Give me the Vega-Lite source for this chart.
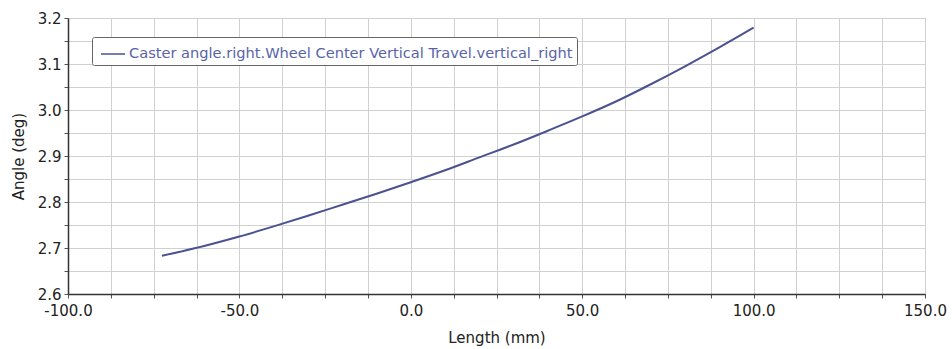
{
  "$schema": "https://vega.github.io/schema/vega-lite/v6.json",
  "width": 857,
  "height": 276,
  "autosize": {"type": "none"},
  "padding": {"left": 68, "top": 18, "right": 27, "bottom": 55},
  "background": "white",
  "config": {
    "font": "DejaVu Sans",
    "view": {"stroke": "#666666", "strokeWidth": 1},
    "axis": {
      "labelFont": "DejaVu Sans",
      "titleFont": "DejaVu Sans",
      "labelFontSize": 15,
      "titleFontSize": 15,
      "labelColor": "#222222",
      "titleColor": "#222222",
      "titleFontWeight": "normal",
      "gridColor": "#d0d0d0",
      "gridWidth": 1,
      "domainColor": "#333333",
      "domainWidth": 1.5,
      "tickColor": "#555555",
      "tickSize": 4,
      "labelOverlap": false,
      "labelFlush": false
    }
  },
  "data": {
    "values": [
      {"x": -72.6, "y": 2.683, "series": "Caster angle.right.Wheel Center Vertical Travel.vertical_right"},
      {"x": -60, "y": 2.705, "series": "Caster angle.right.Wheel Center Vertical Travel.vertical_right"},
      {"x": -50, "y": 2.725, "series": "Caster angle.right.Wheel Center Vertical Travel.vertical_right"},
      {"x": -40, "y": 2.747, "series": "Caster angle.right.Wheel Center Vertical Travel.vertical_right"},
      {"x": -30, "y": 2.770, "series": "Caster angle.right.Wheel Center Vertical Travel.vertical_right"},
      {"x": -20, "y": 2.794, "series": "Caster angle.right.Wheel Center Vertical Travel.vertical_right"},
      {"x": -10, "y": 2.818, "series": "Caster angle.right.Wheel Center Vertical Travel.vertical_right"},
      {"x": 0, "y": 2.843, "series": "Caster angle.right.Wheel Center Vertical Travel.vertical_right"},
      {"x": 10, "y": 2.869, "series": "Caster angle.right.Wheel Center Vertical Travel.vertical_right"},
      {"x": 20, "y": 2.897, "series": "Caster angle.right.Wheel Center Vertical Travel.vertical_right"},
      {"x": 30, "y": 2.925, "series": "Caster angle.right.Wheel Center Vertical Travel.vertical_right"},
      {"x": 40, "y": 2.955, "series": "Caster angle.right.Wheel Center Vertical Travel.vertical_right"},
      {"x": 50, "y": 2.986, "series": "Caster angle.right.Wheel Center Vertical Travel.vertical_right"},
      {"x": 60, "y": 3.019, "series": "Caster angle.right.Wheel Center Vertical Travel.vertical_right"},
      {"x": 70, "y": 3.056, "series": "Caster angle.right.Wheel Center Vertical Travel.vertical_right"},
      {"x": 80, "y": 3.095, "series": "Caster angle.right.Wheel Center Vertical Travel.vertical_right"},
      {"x": 90, "y": 3.136, "series": "Caster angle.right.Wheel Center Vertical Travel.vertical_right"},
      {"x": 100, "y": 3.179, "series": "Caster angle.right.Wheel Center Vertical Travel.vertical_right"}
    ]
  },
  "mark": {"type": "line", "interpolate": "monotone", "strokeWidth": 2},
  "encoding": {
    "x": {
      "field": "x",
      "type": "quantitative",
      "title": "Length (mm)",
      "scale": {"domain": [-100, 150], "nice": false, "zero": false},
      "axis": {
        "values": [-100, -87.5, -75, -62.5, -50, -37.5, -25, -12.5, 0, 12.5, 25, 37.5, 50, 62.5, 75, 87.5, 100, 112.5, 125, 137.5, 150],
        "labelExpr": "datum.value % 50 === 0 ? replace(format(datum.value, '.1f'), '\u2212', '-') : ''",
        "labelPadding": 5,
        "titlePadding": 12
      }
    },
    "y": {
      "field": "y",
      "type": "quantitative",
      "title": "Angle (deg)",
      "scale": {"domain": [2.6, 3.2], "nice": false, "zero": false},
      "axis": {
        "values": [2.6, 2.65, 2.7, 2.75, 2.8, 2.85, 2.9, 2.95, 3.0, 3.05, 3.1, 3.15, 3.2],
        "labelExpr": "abs(round(datum.value * 10) - datum.value * 10) < 0.001 ? format(datum.value, '.1f') : ''",
        "labelPadding": 3,
        "titlePadding": 11
      }
    },
    "color": {
      "field": "series",
      "type": "nominal",
      "scale": {"range": ["#4a5290"]},
      "legend": {
        "title": null,
        "orient": "none",
        "legendX": 24,
        "legendY": 19,
        "direction": "vertical",
        "symbolType": "stroke",
        "symbolSize": 576,
        "symbolStrokeWidth": 1.5,
        "symbolOffset": 4,
        "labelFont": "DejaVu Sans",
        "labelFontSize": 14.6,
        "labelOffset": 3,
        "labelColor": "#5864a8",
        "labelLimit": 700,
        "fillColor": "white",
        "strokeColor": "#666666",
        "padding": 4,
        "cornerRadius": 2
      }
    }
  }
}
